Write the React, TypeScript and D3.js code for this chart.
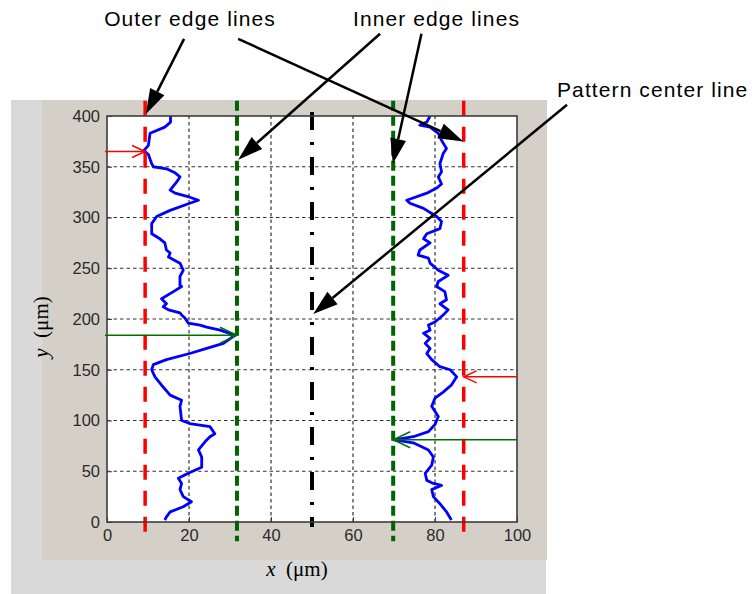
import { useEffect, useRef } from "react";
import * as d3 from "d3";

const xTicks = [0, 20, 40, 60, 80, 100];
const yTicks = [0, 50, 100, 150, 200, 250, 300, 350, 400];

// measured edge profiles, [y, x] pairs read bottom to top
const leftEdge = [
  [2, 14.1], [5, 14.5], [10, 15.4], [15, 18.6], [20, 20.6], [25, 18.6], [32, 17.8], [38, 18.2],
  [43, 17.4], [48, 19.8], [54, 23.1], [64, 23.1], [71, 22.3], [79, 23.9], [84, 25.1], [87, 26.3],
  [94, 25.1], [97, 20.2], [100, 18.2], [114, 17.8], [120, 18.2], [125, 15.4], [133, 13.7],
  [143, 11.7], [150, 10.9], [155, 11.3], [160, 14.5], [166, 20.2], [171, 24.3], [176, 28.4],
  [184, 31.2], [189, 27.6], [192, 24.3], [194, 22.7], [196, 19.8], [201, 19.0], [204, 18.2],
  [206, 17.8], [209, 15.0], [212, 13.7], [215, 14.5], [220, 13.3], [227, 16.2], [232, 18.2],
  [233, 17.8], [242, 17.8], [248, 18.6], [255, 17.8], [261, 15.0], [265, 15.4], [268, 14.5],
  [275, 14.1], [279, 12.9], [284, 10.9], [294, 10.9], [301, 12.1], [307, 15.4], [314, 20.2],
  [317, 22.3], [320, 20.2], [324, 16.6], [327, 15.4], [335, 17.0], [340, 17.8], [344, 16.6],
  [348, 14.5], [350, 11.3], [353, 10.9], [362, 10.1], [366, 9.0], [371, 10.1], [383, 10.5],
  [389, 14.1], [394, 15.5], [400, 15.5],
];

const rightEdge = [
  [2, 84.0], [10, 82.8], [18, 81.2], [25, 79.6], [32, 79.2], [36, 81.6], [38, 79.6], [41, 78.0],
  [48, 77.6], [56, 79.2], [64, 79.6], [71, 78.4], [78, 74.7], [81, 70.0], [84, 74.7], [89, 78.4],
  [96, 80.0], [104, 80.8], [114, 79.2], [122, 80.0], [128, 82.0], [135, 84.0], [143, 85.3],
  [150, 83.7], [153, 81.2], [160, 79.2], [166, 78.0], [171, 78.8], [176, 77.6], [181, 78.8],
  [186, 77.2], [189, 78.8], [194, 78.4], [197, 80.0], [204, 82.0], [209, 83.2], [215, 81.2],
  [219, 82.8], [227, 82.4], [232, 80.4], [237, 80.8], [243, 83.2], [248, 80.8], [255, 78.8],
  [260, 78.4], [263, 75.9], [268, 76.3], [275, 78.8], [279, 77.2], [284, 78.0], [289, 81.2],
  [296, 81.6], [301, 80.4], [304, 79.2], [309, 77.2], [314, 73.9], [317, 73.1], [324, 78.0],
  [329, 80.4], [333, 81.6], [340, 80.8], [345, 81.6], [353, 81.2], [363, 82.0], [368, 82.8],
  [376, 81.6], [383, 80.8], [389, 78.8], [391, 76.3], [394, 78.0], [400, 78.8],
];

const outerEdges = [9.3, 87];
const innerEdges = [31.7, 69.8];
const centerLine = 50;

// thin marker arrows: [y, x from, x to]
const redMarks = [[365, -0.5, 9.3], [143, 100, 87]];
const greenMarks = [[184, -0.5, 31.7], [81, 100, 69.8]];

// callouts in data units: [x0, y0, x1(tip), y1(tip)]
const outerCallouts = [[18.8, 476, 9.5, 402], [32.0, 476, 86.9, 375]];
const innerCallouts = [[66.6, 481, 32.0, 357], [76.7, 481, 69.7, 353]];
const centerCallouts = [[112.2, 411, 50.3, 205]];

export default function App() {
  const ref = useRef<SVGSVGElement>(null);

  useEffect(() => {
    const svg = d3.select(ref.current);
    svg.selectAll("*").remove();

    const x = d3.scaleLinear().domain([0, 100]).range([107, 517]);
    const y = d3.scaleLinear().domain([0, 400]).range([522, 116]);

    // figure backgrounds
    svg.append("rect").attr("x", 11).attr("y", 100).attr("width", 535).attr("height", 494).attr("fill", "#d9d9d9");
    svg.append("rect").attr("x", 42).attr("y", 100).attr("width", 505).attr("height", 460).attr("fill", "#d4d0c8");
    svg.append("rect")
      .attr("x", x(0)).attr("y", y(400))
      .attr("width", x(100) - x(0)).attr("height", y(0) - y(400))
      .attr("fill", "#fff");

    // grid
    const grid = svg.append("g").attr("stroke", "#333").attr("stroke-width", 1.2).attr("stroke-dasharray", "3.5,3");
    xTicks.slice(1, -1).forEach(t => {
      grid.append("line").attr("x1", x(t)).attr("x2", x(t)).attr("y1", y(0)).attr("y2", y(400));
    });
    yTicks.slice(1, -1).forEach(t => {
      grid.append("line").attr("y1", y(t)).attr("y2", y(t)).attr("x1", x(0)).attr("x2", x(100));
    });

    // profiles
    const line = d3.line<number[]>().x(d => x(d[1])).y(d => y(d[0]));
    [leftEdge, rightEdge].forEach(p => {
      svg.append("path").datum(p)
        .attr("fill", "none").attr("stroke", "#0000ff").attr("stroke-width", 2.8)
        .attr("stroke-linejoin", "round").attr("d", line);
    });

    // reference lines
    outerEdges.forEach(v => {
      svg.append("line").attr("x1", x(v)).attr("x2", x(v)).attr("y1", y(415)).attr("y2", y(-19))
        .attr("stroke", "#ff0000").attr("stroke-width", 3.5).attr("stroke-dasharray", "15,11");
    });
    innerEdges.forEach(v => {
      svg.append("line").attr("x1", x(v)).attr("x2", x(v)).attr("y1", y(415)).attr("y2", y(-19))
        .attr("stroke", "#006400").attr("stroke-width", 4).attr("stroke-dasharray", "10,5");
    });
    svg.append("line").attr("x1", x(centerLine)).attr("x2", x(centerLine)).attr("y1", y(404)).attr("y2", y(-5))
      .attr("stroke", "#000").attr("stroke-width", 4).attr("stroke-dasharray", "18,12,3,12");

    // frame and axes
    svg.append("rect")
      .attr("x", x(0)).attr("y", y(400))
      .attr("width", x(100) - x(0)).attr("height", y(0) - y(400))
      .attr("fill", "none").attr("stroke", "#3c3c3c").attr("stroke-width", 1.6);

    const font = "'Liberation Sans', Arial, sans-serif";
    const yAxis = svg.append("g").attr("transform", `translate(${x(0)},0)`)
      .call(d3.axisLeft(y).tickValues(yTicks).tickSize(-5).tickPadding(7));
    const xAxis = svg.append("g").attr("transform", `translate(0,${y(0)})`)
      .call(d3.axisBottom(x).tickValues(xTicks).tickSize(-5).tickPadding(7));
    [yAxis, xAxis].forEach(a => {
      a.select(".domain").remove();
      a.selectAll("line").attr("stroke", "#3c3c3c");
      a.selectAll("text").attr("font-family", font).attr("font-size", 16.5).attr("fill", "#2a2a2a");
    });

    // thin marker arrows with open heads
    const mark = (m: number[], color: string, head: number, spread: number) => {
      const [yy, a, b] = m;
      const dir = Math.sign(b - a);
      const tx = x(b), ty = y(yy);
      svg.append("line").attr("x1", x(a)).attr("x2", tx).attr("y1", ty).attr("y2", ty)
        .attr("stroke", color).attr("stroke-width", 1.5);
      svg.append("path")
        .attr("d", `M${tx - dir * head},${ty - spread}L${tx},${ty}L${tx - dir * head},${ty + spread}`)
        .attr("fill", "none").attr("stroke", color).attr("stroke-width", 1.5);
    };
    redMarks.forEach(m => mark(m, "#ff0000", 13, 6));
    greenMarks.forEach(m => mark(m, "#007000", 17, 8));

    // callout arrows with filled heads
    const callout = (c: number[]) => {
      const x0 = x(c[0]), y0 = y(c[1]), x1 = x(c[2]), y1 = y(c[3]);
      const len = Math.hypot(x1 - x0, y1 - y0);
      const ux = (x1 - x0) / len, uy = (y1 - y0) / len;
      const hl = 25, hw = 8;
      const bx = x1 - ux * hl, by = y1 - uy * hl;
      svg.append("line").attr("x1", x0).attr("y1", y0).attr("x2", bx).attr("y2", by)
        .attr("stroke", "#000").attr("stroke-width", 2.5);
      svg.append("path")
        .attr("d", `M${x1},${y1}L${bx - uy * hw},${by + ux * hw}L${bx + uy * hw},${by - ux * hw}Z`)
        .attr("fill", "#000");
    };
    [...outerCallouts, ...innerCallouts, ...centerCallouts].forEach(callout);

    const label = (t: string, px: number, py: number, anchor: string) => {
      svg.append("text").attr("x", px).attr("y", py).attr("text-anchor", anchor)
        .attr("font-family", font).attr("font-size", 21).attr("letter-spacing", 1.1)
        .attr("fill", "#000").text(t);
    };
    label("Outer edge lines", 190, 26, "middle");
    label("Inner edge lines", 436.5, 26, "middle");
    label("Pattern center line", 557, 97, "start");

    // axis titles
    const serif = "'Liberation Serif', 'Times New Roman', serif";
    const xt = svg.append("text").attr("x", 297).attr("y", 576).attr("text-anchor", "middle")
      .attr("font-family", serif).attr("font-size", 21).attr("fill", "#000");
    xt.append("tspan").attr("font-style", "italic").text("x");
    xt.append("tspan").text("\u2002(\u03bcm)");
    const yt = svg.append("text").attr("transform", "translate(48,327) rotate(-90)").attr("text-anchor", "middle")
      .attr("font-family", serif).attr("font-size", 21).attr("fill", "#000");
    yt.append("tspan").attr("font-style", "italic").text("y");
    yt.append("tspan").text("\u2002(\u03bcm)");
  }, []);

  return (
    <svg ref={ref} width={752} height={594}
      style={{ position: "absolute", left: 0, top: 0, background: "#fff" }} />
  );
}
